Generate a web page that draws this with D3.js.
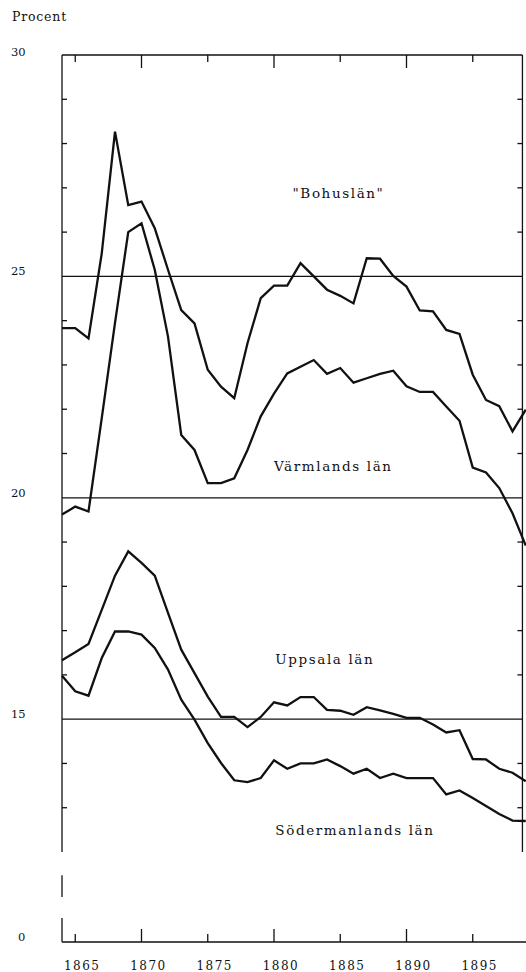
<!DOCTYPE html>
<html>
<head>
<meta charset="utf-8">
<script src="https://cdn.jsdelivr.net/npm/d3@7"></script>
<style>
  body { margin: 0; background: #fff; }
  #chart { width: 526px; height: 972px; }
  text { font-family: "DejaVu Serif", serif; fill: #111; }
</style>
</head>
<body>
<div id="chart"></div>
<script>
const years = [1864, 1865, 1866, 1867, 1868, 1869, 1870, 1871, 1872, 1873, 1874, 1875,
  1876, 1877, 1878, 1879, 1880, 1881, 1882, 1883, 1884, 1885, 1886, 1887,
  1888, 1889, 1890, 1891, 1892, 1893, 1894, 1895, 1896, 1897, 1898, 1899];

const bohuslan = [23.83, 23.83, 23.60, 25.52, 28.27, 26.61, 26.69, 26.09, 25.15, 24.24, 23.94, 22.89,
  22.51, 22.25, 23.49, 24.51, 24.79, 24.79, 25.30, 25.00, 24.70, 24.56, 24.39, 25.41,
  25.40, 25.01, 24.77, 24.23, 24.21, 23.79, 23.70, 22.78, 22.21, 22.07, 21.50, 21.99];

const varmland = [19.62, 19.80, 19.69, 21.80, 23.95, 26.00, 26.20, 25.15, 23.64, 21.42, 21.08, 20.33,
  20.33, 20.44, 21.08, 21.84, 22.35, 22.81, 22.96, 23.11, 22.80, 22.93, 22.60, 22.70,
  22.80, 22.87, 22.52, 22.39, 22.39, 22.06, 21.74, 20.68, 20.57, 20.22, 19.65, 18.92];

const uppsala = [16.33, 16.51, 16.70, 17.47, 18.24, 18.79, 18.53, 18.24, 17.40, 16.57, 16.04, 15.51,
  15.05, 15.05, 14.82, 15.05, 15.38, 15.31, 15.50, 15.50, 15.21, 15.19, 15.10, 15.27,
  15.20, 15.12, 15.03, 15.03, 14.88, 14.70, 14.75, 14.10, 14.09, 13.88, 13.79, 13.60];

const sodermanland = [15.98, 15.63, 15.53, 16.38, 16.98, 16.98, 16.91, 16.61, 16.12, 15.44, 14.99, 14.46,
  14.01, 13.62, 13.58, 13.67, 14.07, 13.88, 14.00, 14.00, 14.09, 13.94, 13.77, 13.88,
  13.67, 13.77, 13.67, 13.67, 13.67, 13.30, 13.39, 13.22, 13.04, 12.86, 12.71, 12.70];

const yearTicks = [1865, 1870, 1875, 1880, 1885, 1890, 1895];
const valueLabels = [0, 15, 20, 25, 30];
const gridValues = [15, 20, 25];
const minorValues = [13, 14, 16, 17, 18, 19, 21, 22, 23, 24, 26, 27, 28, 29];

const series = [
  { name: '"Bohuslän"', values: bohuslan, lx: 1881.4, ly: 26.77 },
  { name: 'Värmlands län', values: varmland, lx: 1880.0, ly: 20.6 },
  { name: 'Uppsala län', values: uppsala, lx: 1880.1, ly: 16.25 },
  { name: 'Södermanlands län', values: sodermanland, lx: 1880.1, ly: 12.38 }
];

const width = 526;
const height = 972;
const frameLeft = 1864;
const frameRight = 1898.75;

const svg = d3.select('#chart')
  .append('svg')
  .attr('width', width)
  .attr('height', height);

const x = d3.scaleLinear()
  .domain([1864, 1899])
  .range([62, 525.75]);

// broken axis: 0..12 is squeezed into the bottom strip
const y = d3.scaleLinear()
  .domain([0, 12, 30])
  .range([942, 852, 55]);

const frame = svg.append('g')
  .attr('stroke', '#111')
  .attr('stroke-width', 1.3);

// left axis with the break drawn as separate pieces
frame.selectAll('line.left')
  .data([[12, 30], [6, 8.9], [0, 3.2]])
  .enter().append('line')
  .attr('x1', x(frameLeft)).attr('x2', x(frameLeft))
  .attr('y1', d => y(d[0])).attr('y2', d => y(d[1]));

frame.append('line')
  .attr('x1', x(frameRight)).attr('x2', x(frameRight))
  .attr('y1', y(30)).attr('y2', y(12));

frame.append('line')
  .attr('x1', x(frameLeft)).attr('x2', x(frameRight))
  .attr('y1', y(30)).attr('y2', y(30));

frame.append('line')
  .attr('x1', x(frameLeft)).attr('x2', width)
  .attr('y1', y(0)).attr('y2', y(0));

frame.selectAll('line.grid')
  .data(gridValues)
  .enter().append('line')
  .attr('x1', x(frameLeft)).attr('x2', x(frameRight))
  .attr('y1', d => y(d)).attr('y2', d => y(d));

frame.selectAll('line.lt')
  .data(minorValues)
  .enter().append('line')
  .attr('x1', x(frameLeft)).attr('x2', x(frameLeft) + 5)
  .attr('y1', d => y(d)).attr('y2', d => y(d));

frame.selectAll('line.rt')
  .data(minorValues)
  .enter().append('line')
  .attr('x1', x(frameRight) - 5).attr('x2', x(frameRight))
  .attr('y1', d => y(d)).attr('y2', d => y(d));

frame.selectAll('line.tt')
  .data(yearTicks)
  .enter().append('line')
  .attr('x1', d => x(d)).attr('x2', d => x(d))
  .attr('y1', y(30)).attr('y2', d => y(30) + (d % 10 === 0 ? 13 : 7));

frame.selectAll('line.bt')
  .data(yearTicks)
  .enter().append('line')
  .attr('x1', d => x(d)).attr('x2', d => x(d))
  .attr('y1', y(0)).attr('y2', d => y(0) - (d % 10 === 0 ? 13 : 8));

const line = d3.line()
  .x((d, i) => x(years[i]))
  .y(d => y(d));

svg.append('g')
  .selectAll('path')
  .data(series)
  .enter().append('path')
  .attr('d', d => line(d.values))
  .attr('fill', 'none')
  .attr('stroke', '#111')
  .attr('stroke-width', 2.3)
  .attr('stroke-linejoin', 'miter');

svg.append('g')
  .selectAll('text')
  .data(series)
  .enter().append('text')
  .attr('x', d => x(d.lx))
  .attr('y', d => y(d.ly))
  .attr('font-size', 13.5)
  .attr('letter-spacing', 1.6)
  .text(d => d.name);

svg.append('g')
  .selectAll('text')
  .data(valueLabels)
  .enter().append('text')
  .attr('x', d => d === 0 ? 18 : 11)
  .attr('y', d => y(d) + (d === 30 ? 1 : -1))
  .attr('font-size', 11.5)
  .text(d => d);

svg.append('g')
  .selectAll('text')
  .data(yearTicks)
  .enter().append('text')
  .attr('x', d => x(d) + 7)
  .attr('y', 970)
  .attr('text-anchor', 'middle')
  .attr('font-size', 12)
  .attr('letter-spacing', 1.5)
  .text(d => d);

svg.append('text')
  .attr('x', 12)
  .attr('y', 21)
  .attr('font-size', 12.5)
  .attr('letter-spacing', 0.8)
  .text('Procent');
</script>
</body>
</html>
